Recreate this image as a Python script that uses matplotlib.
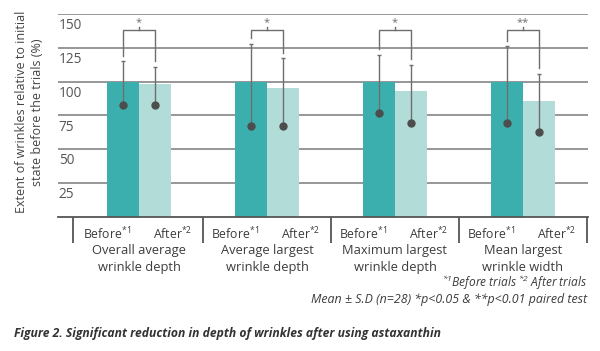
import matplotlib.pyplot as plt
import matplotlib.transforms as mtransforms
import numpy as np

plt.rcParams['font.family'] = ['Open Sans', 'DejaVu Sans']
plt.rcParams['mathtext.fontset'] = 'custom'
plt.rcParams['mathtext.rm'] = 'Open Sans'
plt.rcParams['mathtext.it'] = 'Open Sans:italic'
plt.rcParams['mathtext.default'] = 'regular'

# data
groups = ["Overall average\nwrinkle depth", "Average largest\nwrinkle depth",
          "Maximum largest\nwrinkle depth", "Mean largest\nwrinkle width"]
before_bar = [100, 100, 100, 100]
after_bar = [98, 95, 93, 86]
before_dot = [83, 67, 76.5, 69.5]
after_dot = [83, 67, 69.5, 63]
before_upper = [115, 128, 120, 126]
after_upper = [111, 117.5, 112.5, 106]
stars = ["*", "*", "*", "**"]
yticks = [25, 50, 75, 100, 125, 150]

teal = '#3aafad'
light = '#b2dcd8'
grey = '#6e6e6e'
txt = '#3c3c3c'

fig = plt.figure(figsize=(6, 3.51), dpi=100)
ax = fig.add_axes([58/600, 1-217/351, 530/600, 203/351])

x = np.arange(len(groups))
w = 0.25
ax.set_xlim(-0.633, 3.508)
ax.set_ylim(0, 150)

for t in yticks:
    ax.axhline(t, color='#7a7a7a', lw=1.1, zorder=0)
    ax.annotate(str(t), xy=(0, t), xycoords=('axes fraction', 'data'),
                xytext=(0.5, -3), textcoords='offset points', ha='left', va='top',
                fontsize=9.8, color='#555555')

ax.bar(x - w/2, before_bar, w, color=teal, zorder=2)
ax.bar(x + w/2, after_bar, w, color=light, zorder=2)

# one-sided error bars from the dots up
for xs, d, u in [(x - w/2, before_dot, before_upper), (x + w/2, after_dot, after_upper)]:
    ax.vlines(xs, d, u, color=grey, lw=1, zorder=3)
    ax.hlines(u, xs - 0.018, xs + 0.018, color=grey, lw=1, zorder=3)
    ax.plot(xs, d, 'o', color='#4d4d4d', ms=5, zorder=4)

# significance brackets
br = 138
for i in range(len(groups)):
    xl, xr = x[i] - w/2, x[i] + w/2
    ax.plot([xl, xl, xr, xr], [before_upper[i] + 4, br, br, after_upper[i] + 4],
            color=grey, lw=1, zorder=3)
    ax.plot([x[i], x[i]], [br, br + 2.5], color=grey, lw=1)
    ax.text(x[i], br + 1.5, stars[i], ha='center', va='bottom', fontsize=8, color=grey)

for s in ['top', 'right', 'left']:
    ax.spines[s].set_visible(False)
ax.spines['bottom'].set_color('#555555')
ax.spines['bottom'].set_linewidth(1.3)
ax.set_xticks([])
ax.set_yticks([])

trans = mtransforms.blended_transform_factory(ax.transData, ax.transAxes)
seps = np.concatenate(([x[0] - 0.516], x + 0.5))
ax.vlines(seps, -26/203, 0, transform=trans, color='#555555', lw=1.3, clip_on=False)

for i, g in enumerate(groups):
    ax.text(x[i] - 0.25, -17/203, "Before$^{*1}$", transform=trans, ha='center', va='center',
            fontsize=8.8, color=txt)
    ax.text(x[i] + 0.26, -17/203, "After$^{*2}$", transform=trans, ha='center', va='center',
            fontsize=8.8, color=txt)
    ax.text(x[i], -27/203, g, transform=trans, ha='center', va='top',
            fontsize=9.3, color=txt, linespacing=1.4)

fig.text(30/600, 1-112/351, "Extent of wrinkles relative to initial\nstate before the trials (%)",
         rotation=90, ha='center', va='center', fontsize=9, color='#444444', linespacing=1.3)

fig.text(587/600, 1-283/351, "$^{*1}$Before trials $^{*2}$ After trials", ha='right', va='center',
         fontsize=8.6, style='italic', color=txt)
fig.text(587/600, 1-299/351, "Mean ± S.D (n=28) *p<0.05 & **p<0.01 paired test", ha='right',
         va='center', fontsize=8.9, style='italic', color=txt)
fig.text(14/600, 1-333/351, "Figure 2. Significant reduction in depth of wrinkles after using astaxanthin",
         ha='left', va='center', fontsize=8.7, style='italic', weight='bold', color='#333333')

fig.savefig("out.png", dpi=100, facecolor='white')
